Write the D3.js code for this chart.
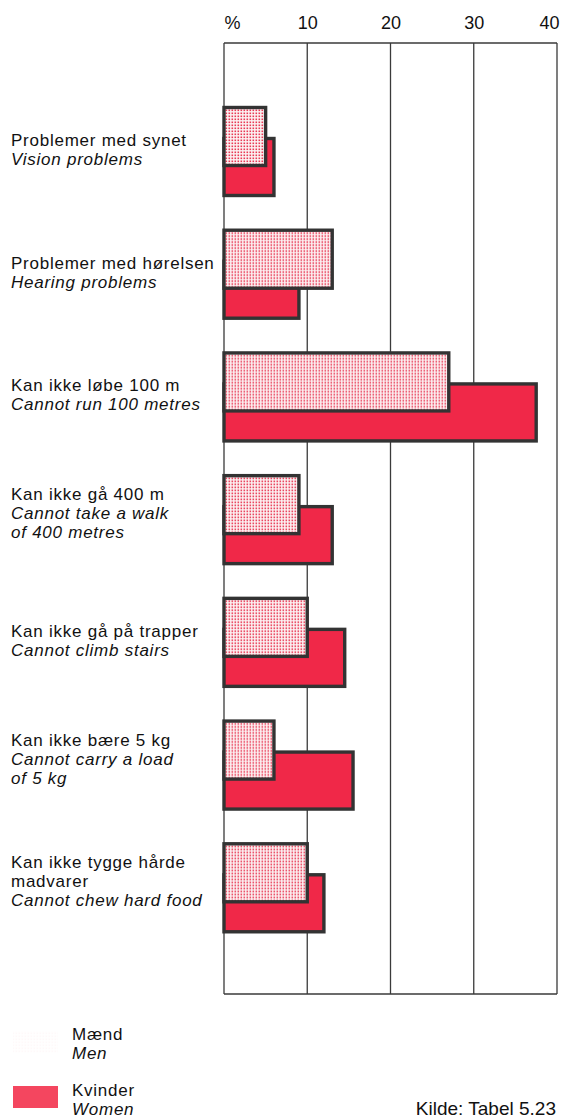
<!DOCTYPE html>
<html><head><meta charset="utf-8">
<script src="https://cdn.jsdelivr.net/npm/d3@7"></script>
<style>
html,body{margin:0;padding:0;background:#fff;}
svg text{font-family:"Liberation Sans",Arial,Helvetica,sans-serif;fill:#111;}
</style></head>
<body>
<svg id="c" width="561" height="1118"></svg>
<script>
const categories = ["vision","hearing","run","walk","stairs","carry","chew"];
const labelsNo = [["Problemer med synet"],["Problemer med hørelsen"],["Kan ikke løbe 100 m"],["Kan ikke gå 400 m"],["Kan ikke gå på trapper"],["Kan ikke bære 5 kg"],["Kan ikke tygge hårde","madvarer"]];
const labelsEn = [["Vision problems"],["Hearing problems"],["Cannot run 100 metres"],["Cannot take a walk","of 400 metres"],["Cannot climb stairs"],["Cannot carry a load","of 5 kg"],["Cannot chew hard food"]];
const men   = [5, 13, 27, 9, 10, 6, 10];
const women = [6, 9, 37.5, 13, 14.5, 15.5, 12];
const tickValues = [0, 10, 20, 30, 40];
const tickLabels = ["%", "10", "20", "30", "40"];
const legendNo = ["Mænd", "Kvinder"];
const legendEn = ["Men", "Women"];

const RED = "#f02848", BORDER = "#333";
const FS = "17px", LS = "0.75px", LH = 19;
const svg = d3.select("#c");
const defs = svg.append("defs");
const pat = defs.append("pattern").attr("id","dots").attr("patternUnits","userSpaceOnUse")
  .attr("width",3).attr("height",3);
pat.append("rect").attr("width",3).attr("height",3).attr("fill","#fdf3f4");
pat.append("rect").attr("x",0.5).attr("y",0.5).attr("width",1.6).attr("height",1.6).attr("fill","#e83a55");

const plotTop = 43, plotBottom = 994;
const x = d3.scaleLinear().domain([0,40]).range([224,557]);
const y = d3.scaleBand().domain(categories).range([94, 953]).paddingInner(0);

// gridlines
svg.append("g").selectAll("line").data(tickValues).join("line")
  .attr("x1",d=>x(d)).attr("x2",d=>x(d)).attr("y1",plotTop).attr("y2",plotBottom)
  .attr("stroke","#3a3a3a").attr("stroke-width",1.3);
svg.append("line").attr("x1",x(0)).attr("x2",x(40)).attr("y1",plotTop).attr("y2",plotTop)
  .attr("stroke","#3a3a3a").attr("stroke-width",1.3);
svg.append("line").attr("x1",x(0)).attr("x2",x(40)).attr("y1",plotBottom).attr("y2",plotBottom)
  .attr("stroke","#3a3a3a").attr("stroke-width",1.3);

// axis labels
const axis = d3.axisTop(x).tickValues(tickValues).tickSize(0)
  .tickFormat((d,i)=>tickLabels[i]);
const ag = svg.append("g").attr("transform","translate(0,29)").call(axis);
ag.select(".domain").remove();
ag.selectAll("text").attr("dy",0).attr("y",0)
  .style("font-size","18px").style("fill","#111")
  .attr("text-anchor",(d,i)=> i===0 ? "start" : (i===tickValues.length-1 ? "end" : "middle"))
  .attr("dx",(d,i)=> i===tickValues.length-1 ? 2 : 0);

// bars
const groups = svg.append("g").selectAll("g").data(categories).join("g")
  .attr("transform",d=>`translate(0,${y(d)+12})`);
groups.append("rect")
  .attr("x",x(0)).attr("y",32.5)
  .attr("width",(d,i)=>x(women[i])-x(0)).attr("height",57)
  .attr("fill",RED).attr("stroke",BORDER).attr("stroke-width",3.4);
groups.append("rect")
  .attr("x",x(0)).attr("y",1.5)
  .attr("width",(d,i)=>x(men[i])-x(0)).attr("height",58)
  .attr("fill","url(#dots)").attr("stroke",BORDER).attr("stroke-width",3.4);

// labels
groups.each(function(d,i){
  const g = d3.select(this);
  const lines = labelsNo[i].map(t=>({t,it:false})).concat(labelsEn[i].map(t=>({t,it:true})));
  const first = 40 - (lines.length-2)*14;
  g.selectAll("text.lab").data(lines).join("text").attr("class","lab")
    .attr("x",11).attr("y",(l,j)=>first + j*LH)
    .style("font-size",FS).style("letter-spacing",LS).style("font-style",l=>l.it?"italic":"normal")
    .text(l=>l.t);
});

// legend
const lg = svg.append("g");
lg.append("rect").attr("x",13).attr("y",1031).attr("width",45).attr("height",22)
  .attr("fill","url(#dots)").attr("opacity",0.03);
lg.append("rect").attr("x",13).attr("y",1086).attr("width",45).attr("height",22)
  .attr("fill","#f4465f");
[[1040,1059],[1096,1115]].forEach((b,i)=>{
  lg.append("text").attr("x",72).attr("y",b[0]).style("font-size",FS).style("letter-spacing",LS).text(legendNo[i]);
  lg.append("text").attr("x",72).attr("y",b[1]).style("font-size",FS).style("letter-spacing",LS).style("font-style","italic").text(legendEn[i]);
});
svg.append("text").attr("x",556).attr("y",1115).attr("text-anchor","end")
  .style("font-size","19px").text("Kilde: Tabel 5.23");
</script>
</body></html>
